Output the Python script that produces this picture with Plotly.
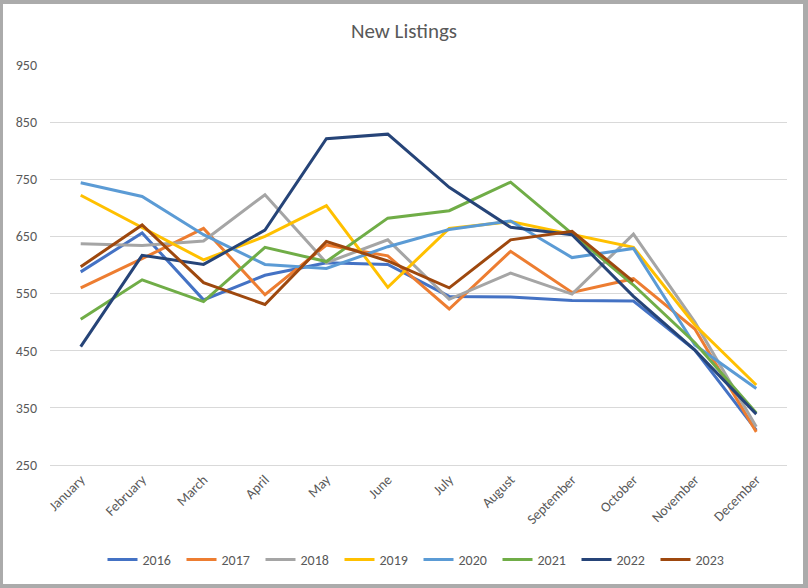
import plotly.graph_objects as go

months = ["January", "February", "March", "April", "May", "June", "July",
          "August", "September", "October", "November", "December"]

y2016 = [588, 656, 539, 582, 604, 601, 545, 544, 538, 537, 451, 311]
y2017 = [560, 611, 664, 548, 635, 616, 523, 624, 552, 576, 488, 308]
y2018 = [637, 634, 642, 723, 604, 644, 540, 586, 549, 654, 500, 317]
y2019 = [722, 665, 609, 650, 704, 561, 664, 676, 653, 631, 495, 390]
y2020 = [744, 720, 653, 601, 594, 632, 662, 677, 613, 629, 460, 384]
y2021 = [505, 574, 536, 631, 606, 682, 695, 745, 655, 565, 464, 341]
y2022 = [457, 617, 601, 661, 821, 829, 736, 666, 653, 545, 451, 339]
y2023 = [597, 670, 569, 531, 641, 607, 560, 644, 659, 571, None, None]

series = [
    ("2016", y2016, "#4472C4"),
    ("2017", y2017, "#ED7D31"),
    ("2018", y2018, "#A5A5A5"),
    ("2019", y2019, "#FFC000"),
    ("2020", y2020, "#5B9BD5"),
    ("2021", y2021, "#70AD47"),
    ("2022", y2022, "#264478"),
    ("2023", y2023, "#9E480E"),
]

FONT = "Carlito, Calibri, 'Liberation Sans Narrow', 'Open Sans', sans-serif"

fig = go.Figure()
for name, vals, col in series:
    fig.add_trace(go.Scatter(x=months, y=vals, name=name, mode="lines",
                             line=dict(color=col, width=3), connectgaps=False))

W, H = 808, 588
L, R, T, B = 50, 21, 65, 123
pw, ph = W - L - R, H - T - B

def px(x):
    return (x - L) / pw

def py(y):
    return (H - B - y) / ph

fig.add_shape(type="rect", xref="paper", yref="paper",
              x0=px(3), x1=px(803), y0=py(584), y1=py(4),
              fillcolor="white", line=dict(width=0), layer="below")

fig.update_layout(
    width=W, height=H,
    margin=dict(l=L, r=R, t=T, b=B),
    paper_bgcolor="#ababab",
    plot_bgcolor="rgba(0,0,0,0)",
    title=dict(text="New Listings", x=0.5, xref="container", xanchor="center",
               y=1 - 31 / H, yref="container", yanchor="middle",
               font=dict(family=FONT, size=21, color="#595959")),
    font=dict(family=FONT, size=14, color="#595959"),
    showlegend=True,
    legend=dict(orientation="h", x=0.5, xanchor="center", y=py(560), yanchor="middle",
                font=dict(family=FONT, size=14, color="#595959"),
                itemwidth=30, entrywidth=34, entrywidthmode="pixels",
                bgcolor="rgba(0,0,0,0)"),
    xaxis=dict(showgrid=False, tickangle=-45, ticks="", showline=True,
               range=[-0.5, 11.5],
               linecolor="#d9d9d9", linewidth=1,
               tickfont=dict(family=FONT, size=14, color="#595959")),
    yaxis=dict(range=[250, 950], dtick=100, tick0=250, showgrid=True,
               gridcolor="#d9d9d9", gridwidth=1, zeroline=False, ticks="",
               ticklabelstandoff=12,
               tickfont=dict(family=FONT, size=14, color="#595959")),
)

fig.write_html("out.html", config={"displayModeBar": False},
               post_script="document.body.style.margin='0';document.body.style.overflow='hidden';")
